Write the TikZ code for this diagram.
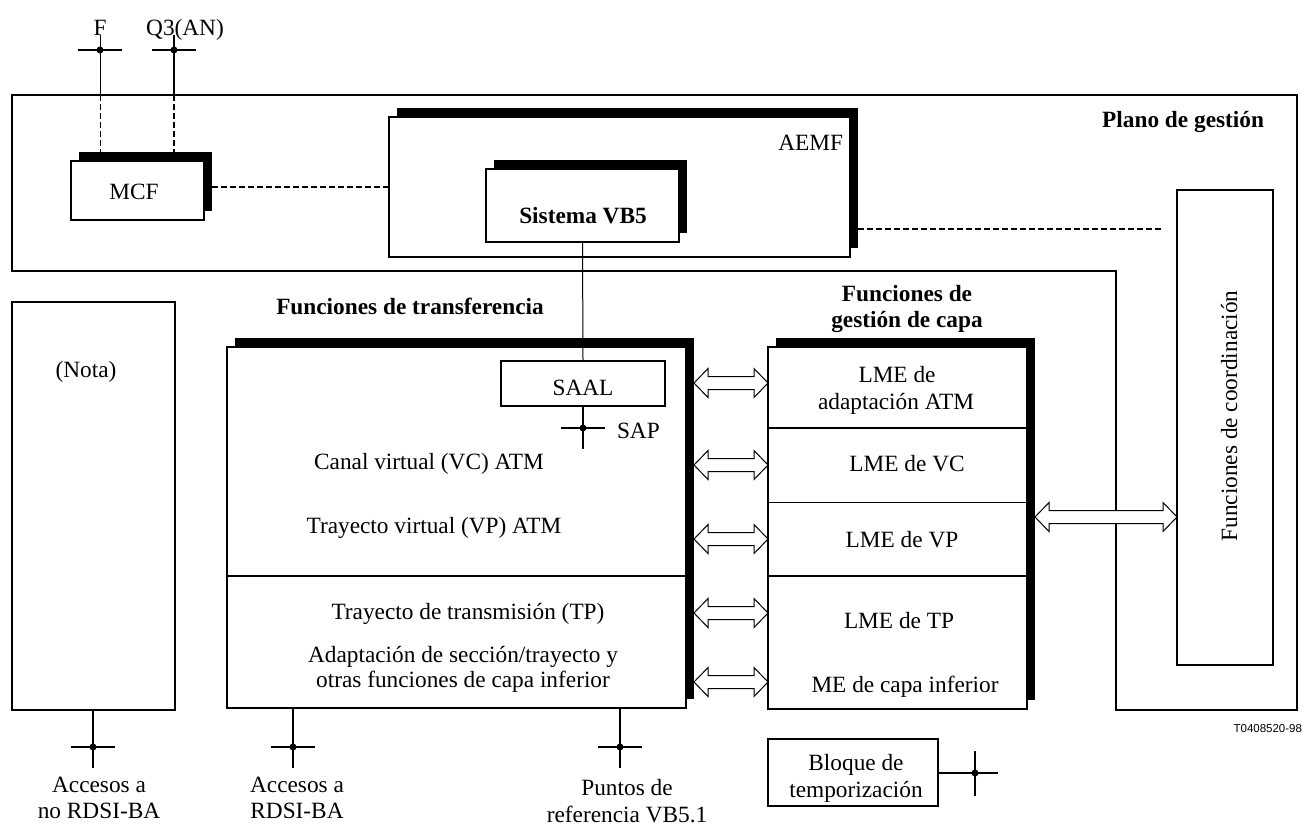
\documentclass[tikz,border=0pt]{standalone}
\usepackage{fontspec}
\setmainfont{Liberation Serif}
\newfontfamily\sansf{Liberation Sans}
\usetikzlibrary{shadows,calc}
\newcommand\hollowarrow[3]{%
  \path (#1 |- 0,#3) coordinate (ha1) (#2 |- 0,#3) coordinate (ha2);
  \draw[hollow] (ha1) -- ++(14,-14.5) -- ++(0,8) -- ($(ha2)+(-14,-6.5)$) -- ++(0,-8) -- (ha2)
     -- ++(-14,14.5) -- ++(0,-8) -- ($(ha1)+(14,6.5)$) -- ++(0,8) -- cycle;}
\newcommand\refcross[1]{%
  \draw[xline] ([xshift=-22pt]#1) -- ([xshift=22pt]#1);
  \fill (#1) circle (3.5pt);}
\begin{document}
\begin{tikzpicture}[x=1pt,y=-1pt,
  every node/.style={inner sep=0pt, outer sep=0pt},
  txt/.style={font=\fontsize{23.3}{28}\selectfont, anchor=base},
  btxt/.style={font=\fontsize{23.3}{28}\selectfont\bfseries, anchor=base},
  plainbox/.style={draw, line width=1.1pt, fill=white, anchor=north west},
  shbox/.style={plainbox, general shadow={fill=black, shadow xshift=8pt, shadow yshift=9pt}},
  frame/.style={line width=1.1pt},
  dashline/.style={line width=1.4pt, dash pattern=on 6pt off 3pt},
  thinline/.style={line width=1pt},
  xline/.style={line width=1.9pt},
  hollow/.style={draw, line width=1pt, fill=white, line join=miter},
]
\useasboundingbox (0,0) rectangle (1305,825);

% management plane outline
\draw[frame] (12,95) -- (1297,95) -- (1297,710) -- (1116,710) -- (1116,271) -- (12,271) -- cycle;
\node[btxt, anchor=base east] (plano) at (1264,127) {Plano de gestión};

% boxes
\node[shbox, minimum width=133pt, minimum height=59pt] (mcf) at (71,161) {};
\node[txt] (mcft) at (134,199) {MCF};
\node[shbox, minimum width=461pt, minimum height=140pt] (aemf) at (389,117) {};
\node[txt, anchor=base east] (aemft) at (843,150) {AEMF};
\node[shbox, minimum width=193pt, minimum height=73pt] (vb5) at (486,169) {};
\node[btxt] (vb5t) at (583,223) {Sistema VB5};
\node[plainbox, minimum width=96pt, minimum height=475pt] (coord) at (1177,190) {};
\node[rotate=90, font=\fontsize{23.3}{28}\selectfont] (coordt) at (1229,416) {Funciones de coordinación};
\node[plainbox, minimum width=163pt, minimum height=408pt] (nota) at (12,302) {};
\node[txt] (notat) at (86,377) {(Nota)};

\node[shbox, minimum width=459pt, minimum height=361pt] (tf) at (227,347) {};
\node[btxt] (tft) at (410,314) {Funciones de transferencia};
\node[plainbox, minimum width=164pt, minimum height=45pt] (saal) at (501,361) {};
\node[txt] (saalt) at (583,395) {SAAL};
\node[txt] (vc) at (429,469) {Canal virtual (VC) ATM};
\node[txt] (vp) at (434,533) {Trayecto virtual (VP) ATM};
\node[txt] (tp) at (468,619) {Trayecto de transmisión (TP)};
\node[txt] (ad1) at (463,662) {Adaptación de sección/trayecto y};
\node[txt] (ad2) at (463,687) {otras funciones de capa inferior};
\draw[line width=2pt] (tf.west |- 0,576) -- (tf.east |- 0,576);

\node[shbox, minimum width=259pt, minimum height=362pt] (lm) at (768,347) {};
\node[btxt] (lmt1) at (907,301) {Funciones de};
\node[btxt] (lmt2) at (907,327) {gestión de capa};
\draw[line width=2pt] (lm.west |- 0,428) -- (lm.east |- 0,428);
\draw[thinline] (lm.west |- 0,502) -- (lm.east |- 0,502);
\draw[line width=2pt] (lm.west |- 0,576) -- (lm.east |- 0,576);
\node[txt] (l1) at (897,382) {LME de};
\node[txt] (l2) at (896,409) {adaptación ATM};
\node[txt] (l3) at (907,471) {LME de VC};
\node[txt] (l4) at (902,547) {LME de VP};
\node[txt] (l5) at (899,628) {LME de TP};
\node[txt] (l6) at (905,692) {ME de capa inferior};

\node[plainbox, minimum width=170pt, minimum height=67pt] (bloque) at (768,739) {};
\node[txt] (bl1) at (856,770) {Bloque de};
\node[txt] (bl2) at (856,797) {temporización};

% top reference points
\node[txt] (Ft) at (100,35) {F};
\node[txt] (Qt) at (185,35) {Q3(AN)};
\coordinate (Fp) at (100,50);
\coordinate (Qp) at (174,50);
\coordinate (mcfS) at ([yshift=9pt]mcf.north);
\draw[thinline] (Fp |- 0,35) -- (Fp |- 0,95);
\draw[thinline, dash pattern=on 6pt off 3pt] (Fp |- 0,95) -- (Fp |- mcfS);
\draw[line width=1.8pt] (Qp |- 0,35) -- (Qp |- 0,95);
\draw[dashline] (Qp |- 0,95) -- (Qp |- mcfS);
\refcross{Fp}
\refcross{Qp}

% dashed management links
\coordinate (mcfR) at ([xshift=8pt]mcf.east);
\draw[dashline] (mcfR |- 0,187) -- (aemf.west |- 0,187);
\coordinate (aemfR) at ([xshift=8pt]aemf.east);
\coordinate (dashend) at (1162,229);
\draw[dashline] (aemfR |- dashend) -- (dashend);

% VB5 to SAAL, SAP
\draw[thinline] (vb5.south) -- (saal.north);
\coordinate (sap) at (583,428);
\draw[line width=1.3pt] (saal.south) -- (sap |- 0,449);
\refcross{sap}
\node[txt, anchor=base west] (sapt) at (617,438) {SAP};

% hollow double arrows
\coordinate (tfR) at ([xshift=8pt]tf.east);
\coordinate (lmR) at ([xshift=8pt]lm.east);
\hollowarrow{tfR}{lm.west}{383}
\hollowarrow{tfR}{lm.west}{465}
\hollowarrow{tfR}{lm.west}{539}
\hollowarrow{tfR}{lm.west}{613}
\hollowarrow{tfR}{lm.west}{682}
\hollowarrow{lmR}{coord.west}{517}

% bottom reference points
\coordinate (b1) at (93,747);
\coordinate (b2) at (293,747);
\coordinate (b3) at (620,747);
\draw[xline] (b1 |- nota.south) -- (b1 |- 0,768);
\draw[xline] (b2 |- tf.south) -- (b2 |- 0,768);
\draw[xline] (b3 |- tf.south) -- (b3 |- 0,768);
\refcross{b1}
\refcross{b2}
\refcross{b3}
\node[txt] (a1) at (99,792) {Accesos a};
\node[txt] (a2) at (99,818) {no RDSI-BA};
\node[txt] (a3) at (297,792) {Accesos a};
\node[txt] (a4) at (297,818) {RDSI-BA};
\node[txt] (a5) at (627,795) {Puntos de};
\node[txt] (a6) at (627,822) {referencia VB5.1};

\coordinate (bx) at (975,773);
\draw[xline] (bloque.east |- bx) -- ([xshift=23pt]bx);
\draw[xline] (bx |- 0,751) -- (bx |- 0,796);
\fill (bx) circle (3.5pt);

\node[font=\sansf\fontsize{11.5}{13}\selectfont, anchor=base east] (code) at (1302,732) {T0408520-98};
\end{tikzpicture}
\end{document}
